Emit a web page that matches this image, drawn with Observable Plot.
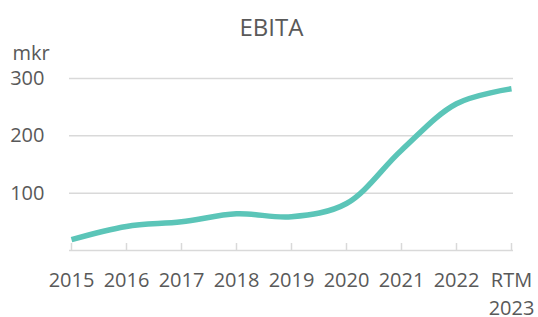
<!DOCTYPE html>
<html>
<head>
<meta charset="utf-8">
<script src="https://cdn.jsdelivr.net/npm/d3@7"></script>
<script src="https://cdn.jsdelivr.net/npm/@observablehq/plot@0.6"></script>
<style>
  html, body { margin: 0; padding: 0; background: #fff; }
  #wrap { position: relative; width: 538px; height: 317px; overflow: hidden; font-family: "Open Sans", sans-serif; color: #595959; }
  #title { position: absolute; top: 10px; left: 0; width: 543px; text-align: center; font-size: 24px; line-height: 34px; }
  #chart { position: absolute; top: 0; left: 0; }
</style>
</head>
<body>
<div id="wrap">
  <div id="chart"></div>
  <div id="title"></div>
</div>
<script>
const title = "EBITA";
const unitLabel = "mkr";
const categories = ["2015", "2016", "2017", "2018", "2019", "2020", "2021", "2022", "RTM 2023"];
const ebita = [19, 42, 50, 64, 59, 82, 175, 256, 282];
const yTicks = [100, 200, 300];

const data = categories.map((c, i) => ({cat: c, value: ebita[i]}));

document.getElementById("title").textContent = title;

const chart = Plot.plot({
  width: 538,
  height: 317,
  marginLeft: 69,
  marginRight: 25,
  marginTop: 78,
  marginBottom: 67,
  style: {fontFamily: "Open Sans, sans-serif", fontSize: "20px", color: "#595959", background: "transparent", overflow: "visible"},
  x: {type: "point", domain: categories, padding: 0},
  y: {domain: [0, 300]},
  marks: [
    Plot.ruleY(yTicks, {stroke: "#d9d9d9", strokeWidth: 1.5}),
    Plot.ruleY([0], {stroke: "#d9d9d9", strokeWidth: 1.5}),
    Plot.ruleX(categories, {x: d => d, y1: 0, y2: 0, insetTop: -7, stroke: "#d9d9d9", strokeWidth: 1.5}),
    Plot.axisY({ticks: yTicks, tickSize: 0, tickPadding: 25, label: null, fill: "#595959"}),
    Plot.axisX({tickSize: 0, tickPadding: 17, label: null, lineHeight: 1.4, fill: "#595959", tickFormat: d => d.replace(" ", "\n")}),
    Plot.line(data, {x: "cat", y: "value", curve: "catmull-rom", stroke: "#5bc5b8", strokeWidth: 5.5, strokeLinecap: "butt"}),
    Plot.text([unitLabel], {frameAnchor: "top-left", text: d => d, dx: -57, dy: -33, textAnchor: "start", fill: "#595959", fontSize: 20})
  ]
});
document.getElementById("chart").appendChild(chart);
</script>
</body>
</html>
